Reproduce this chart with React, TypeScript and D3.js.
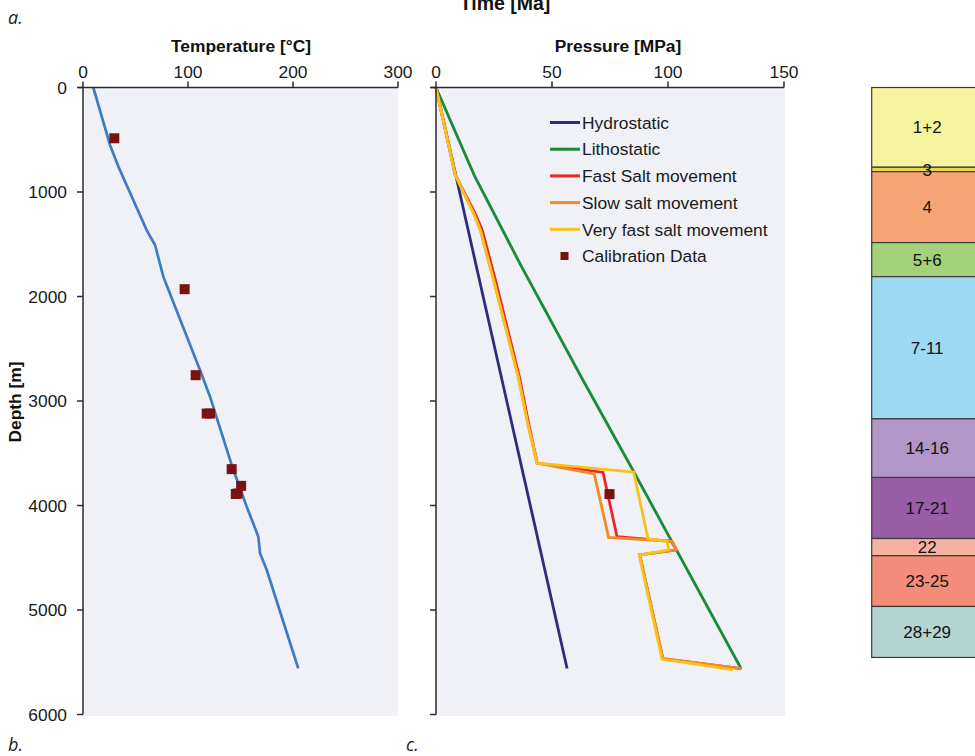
import React from "react";
import * as d3 from "d3";

// Depth profile of modelled temperature [°C, m]
const temperatureProfile: [number, number][] = [
  [9.8, 0], [25.7, 550], [33.7, 757], [60.6, 1364], [68.6, 1507], [76.5, 1810],
  [111.4, 2703], [121.2, 2965], [141.6, 3612], [155.9, 4011], [167, 4298],
  [168.6, 4457], [175, 4617], [201.9, 5462], [205, 5558],
];

// Measured temperatures [°C, m]
const temperatureCalibration: [number, number][] = [
  [29.8, 486], [96.8, 1930], [107.3, 2753], [117.8, 3120], [121, 3120],
  [141.6, 3652], [150.6, 3812], [147.3, 3885], [145.5, 3890],
];

// Pressure profiles [MPa, m]
const hydrostatic: [number, number][] = [[0, 0], [56.5, 5560]];
const lithostatic: [number, number][] = [
  [0, 0], [16.5, 840], [36.3, 1690], [62.9, 2782], [85.2, 3675], [131.5, 5560],
];
const fastSalt: [number, number][] = [
  [0, 0], [8.3, 837], [16.8, 1203], [19.9, 1363], [25.6, 1841], [36.1, 2782],
  [39.6, 3180], [43.6, 3594], [72, 3684], [78, 4297], [101.5, 4342],
  [103.6, 4424], [87.8, 4472], [97.8, 5466], [131.5, 5560],
];
const slowSalt: [number, number][] = [
  [0, 0], [8.3, 837], [16.2, 1203], [19.1, 1363], [24.8, 1841], [35.6, 2782],
  [39.2, 3180], [43.5, 3594], [68.2, 3697], [74.4, 4306], [101.7, 4344],
  [103.6, 4424], [87.8, 4472], [97.8, 5466], [131.9, 5562],
];
const veryFastSalt: [number, number][] = [
  [0, 0], [8.3, 837], [16.2, 1203], [19.1, 1363], [24.8, 1841], [35.6, 2782],
  [39.2, 3180], [43.5, 3594], [85.2, 3681], [91.4, 4318], [99.6, 4344],
  [100.3, 4424], [87.6, 4475], [97.4, 5470], [128, 5572],
];
const pressureCalibration: [number, number][] = [[74.8, 3891]];

const pressureSeries = [
  { name: "Hydrostatic", data: hydrostatic, color: "#2f2c7c" },
  { name: "Lithostatic", data: lithostatic, color: "#1a8a3b" },
  { name: "Fast Salt movement", data: fastSalt, color: "#e8262b" },
  { name: "Slow salt movement", data: slowSalt, color: "#f08a26" },
  { name: "Very fast salt movement", data: veryFastSalt, color: "#f8c21d" },
];

// Stratigraphic units: label, top and base depth [m]
const unitLabels = ["1+2", "3", "4", "5+6", "7-11", "14-16", "17-21", "22", "23-25", "28+29"];
const unitTops = [0, 763, 805, 1484, 1810, 3171, 3732, 4316, 4481, 4966];
const unitBases = [763, 805, 1484, 1810, 3171, 3732, 4316, 4481, 4966, 5454];
const unitColors = [
  "#f5f39c", "#e9d64e", "#f7a574", "#a3d27b", "#9dd9f3",
  "#b196c7", "#985fa6", "#f6b1a3", "#f58c79", "#b2d5d2",
];

const depthTicks = [0, 1000, 2000, 3000, 4000, 5000, 6000];
const temperatureTicks = [0, 100, 200, 300];
const pressureTicks = [0, 50, 100, 150];

const W = 975;
const H = 756;
const FONT = "'Liberation Sans', Arial, sans-serif";
const ITALIC = "'Open Sans', 'Liberation Sans', sans-serif";
const FS = 17.4;

const yDepth = d3.scaleLinear().domain([0, 6000]).range([87.5, 714.5]);
const xTemp = d3.scaleLinear().domain([0, 300]).range([83, 398]);
const xPres = d3.scaleLinear().domain([0, 150]).range([436, 784]);

const plotBg = "#eff1f6";
const axisColor = "#2b2b2b";

function TopAxis({ scale, ticks }: { scale: d3.ScaleLinear<number, number>; ticks: number[] }) {
  const [x0, x1] = scale.range();
  const y = yDepth(0);
  return (
    <g>
      <line x1={x0 - 5} x2={x1} y1={y} y2={y} stroke={axisColor} strokeWidth={1.5} />
      {ticks.map((t) => (
        <g key={t}>
          <line x1={scale(t)} x2={scale(t)} y1={y - 6} y2={y} stroke={axisColor} strokeWidth={1.5} />
          <text x={scale(t)} y={78} textAnchor="middle" fontSize={FS} fontFamily={FONT} fill="#1a1a1a">
            {t}
          </text>
        </g>
      ))}
    </g>
  );
}

function LeftAxis({ x, labels }: { x: number; labels: boolean }) {
  const [y0, y1] = yDepth.range();
  return (
    <g>
      <line x1={x} x2={x} y1={y0} y2={y1} stroke={axisColor} strokeWidth={1.5} />
      {depthTicks.map((t) => (
        <g key={t}>
          <line x1={x - 6} x2={x} y1={yDepth(t)} y2={yDepth(t)} stroke={axisColor} strokeWidth={1.5} />
          {labels && (
            <text x={x - 16} y={yDepth(t)} dy="0.36em" textAnchor="end" fontSize={FS} fontFamily={FONT} fill="#1a1a1a">
              {t}
            </text>
          )}
        </g>
      ))}
    </g>
  );
}

export default function App() {
  const tempLine = d3
    .line<[number, number]>()
    .x((d) => xTemp(d[0]))
    .y((d) => yDepth(d[1]));
  const presLine = d3
    .line<[number, number]>()
    .x((d) => xPres(d[0]))
    .y((d) => yDepth(d[1]));

  const colX = 871.7;
  const colW = 111;
  const sq = 10;

  return (
    <>
      <style>{"body{margin:0}"}</style>
      <svg width={W} height={H} style={{ display: "block", background: "#fff" }}>
        {/* panel labels */}
        <text x={8} y={24} fontSize={18} fontStyle="italic" fontFamily={ITALIC} fill="#222">a.</text>
        <text x={8} y={751} fontSize={18} fontStyle="italic" fontFamily={ITALIC} fill="#222">b.</text>
        <text x={406} y={751} fontSize={18} fontStyle="italic" fontFamily={ITALIC} fill="#222">c.</text>
        <text x={505} y={10} textAnchor="middle" fontSize={19.5} fontWeight="bold" fontFamily={FONT} fill="#111">
          Time [Ma]
        </text>

        {/* temperature panel */}
        <rect x={xTemp(0)} y={yDepth(0)} width={xTemp(300) - xTemp(0)} height={716 - yDepth(0)} fill={plotBg} />
        <text x={241} y={52} textAnchor="middle" fontSize={FS} fontWeight="bold" fontFamily={FONT} fill="#111">
          Temperature [°C]
        </text>
        <text
          transform={`translate(21,${402}) rotate(-90)`}
          textAnchor="middle"
          fontSize={FS}
          fontWeight="bold"
          fontFamily={FONT}
          fill="#111"
        >
          Depth [m]
        </text>
        <path d={tempLine(temperatureProfile) ?? ""} fill="none" stroke="#3b7cc4" strokeWidth={2.7} strokeLinejoin="round" />
        {temperatureCalibration.map((d, i) => (
          <rect key={i} x={xTemp(d[0]) - sq / 2} y={yDepth(d[1]) - sq / 2} width={sq} height={sq} fill="#7a1214" />
        ))}
        <TopAxis scale={xTemp} ticks={temperatureTicks} />
        <LeftAxis x={xTemp(0)} labels={true} />

        {/* pressure panel */}
        <rect x={xPres(0)} y={yDepth(0)} width={xPres(150) - xPres(0) + 1} height={716 - yDepth(0)} fill={plotBg} />
        <text x={618} y={52} textAnchor="middle" fontSize={FS} fontWeight="bold" fontFamily={FONT} fill="#111">
          Pressure [MPa]
        </text>
        {pressureSeries.map((s) => (
          <path key={s.name} d={presLine(s.data) ?? ""} fill="none" stroke={s.color} strokeWidth={2.8} strokeLinejoin="miter" />
        ))}
        {pressureCalibration.map((d, i) => (
          <rect key={i} x={xPres(d[0]) - sq / 2} y={yDepth(d[1]) - sq / 2} width={sq} height={sq} fill="#7a1214" />
        ))}
        <TopAxis scale={xPres} ticks={pressureTicks} />
        <LeftAxis x={xPres(0)} labels={false} />

        {/* legend */}
        <g fontFamily={FONT} fontSize={FS} fill="#1a1a1a">
          {pressureSeries.map((s, i) => {
            const y = 122.5 + i * 26.7;
            return (
              <g key={s.name}>
                <line x1={550} x2={580} y1={y} y2={y} stroke={s.color} strokeWidth={3} />
                <text x={582} y={y} dy="0.36em">{s.name}</text>
              </g>
            );
          })}
          <rect x={564.5 - 4} y={256 - 4} width={8} height={8} fill="#7a1214" />
          <text x={582} y={256} dy="0.36em">Calibration Data</text>
        </g>

        {/* stratigraphic column */}
        <g>
          {unitLabels.map((label, i) => {
            const y0 = yDepth(unitTops[i]);
            const y1 = yDepth(unitBases[i]);
            return (
              <rect key={label} x={colX} y={y0} width={colW} height={y1 - y0} fill={unitColors[i]} stroke="#3a3a3a" strokeWidth={1.2} />
            );
          })}
        </g>
        <g fontFamily={FONT} fontSize={17} fill="#111">
          {unitLabels.map((label, i) => {
            const y0 = yDepth(unitTops[i]);
            const y1 = yDepth(unitBases[i]);
            return (
              <text key={label} x={colX + colW / 2} y={(y0 + y1) / 2} dy="0.36em" textAnchor="middle">
                {label}
              </text>
            );
          })}
        </g>
      </svg>
    </>
  );
}
